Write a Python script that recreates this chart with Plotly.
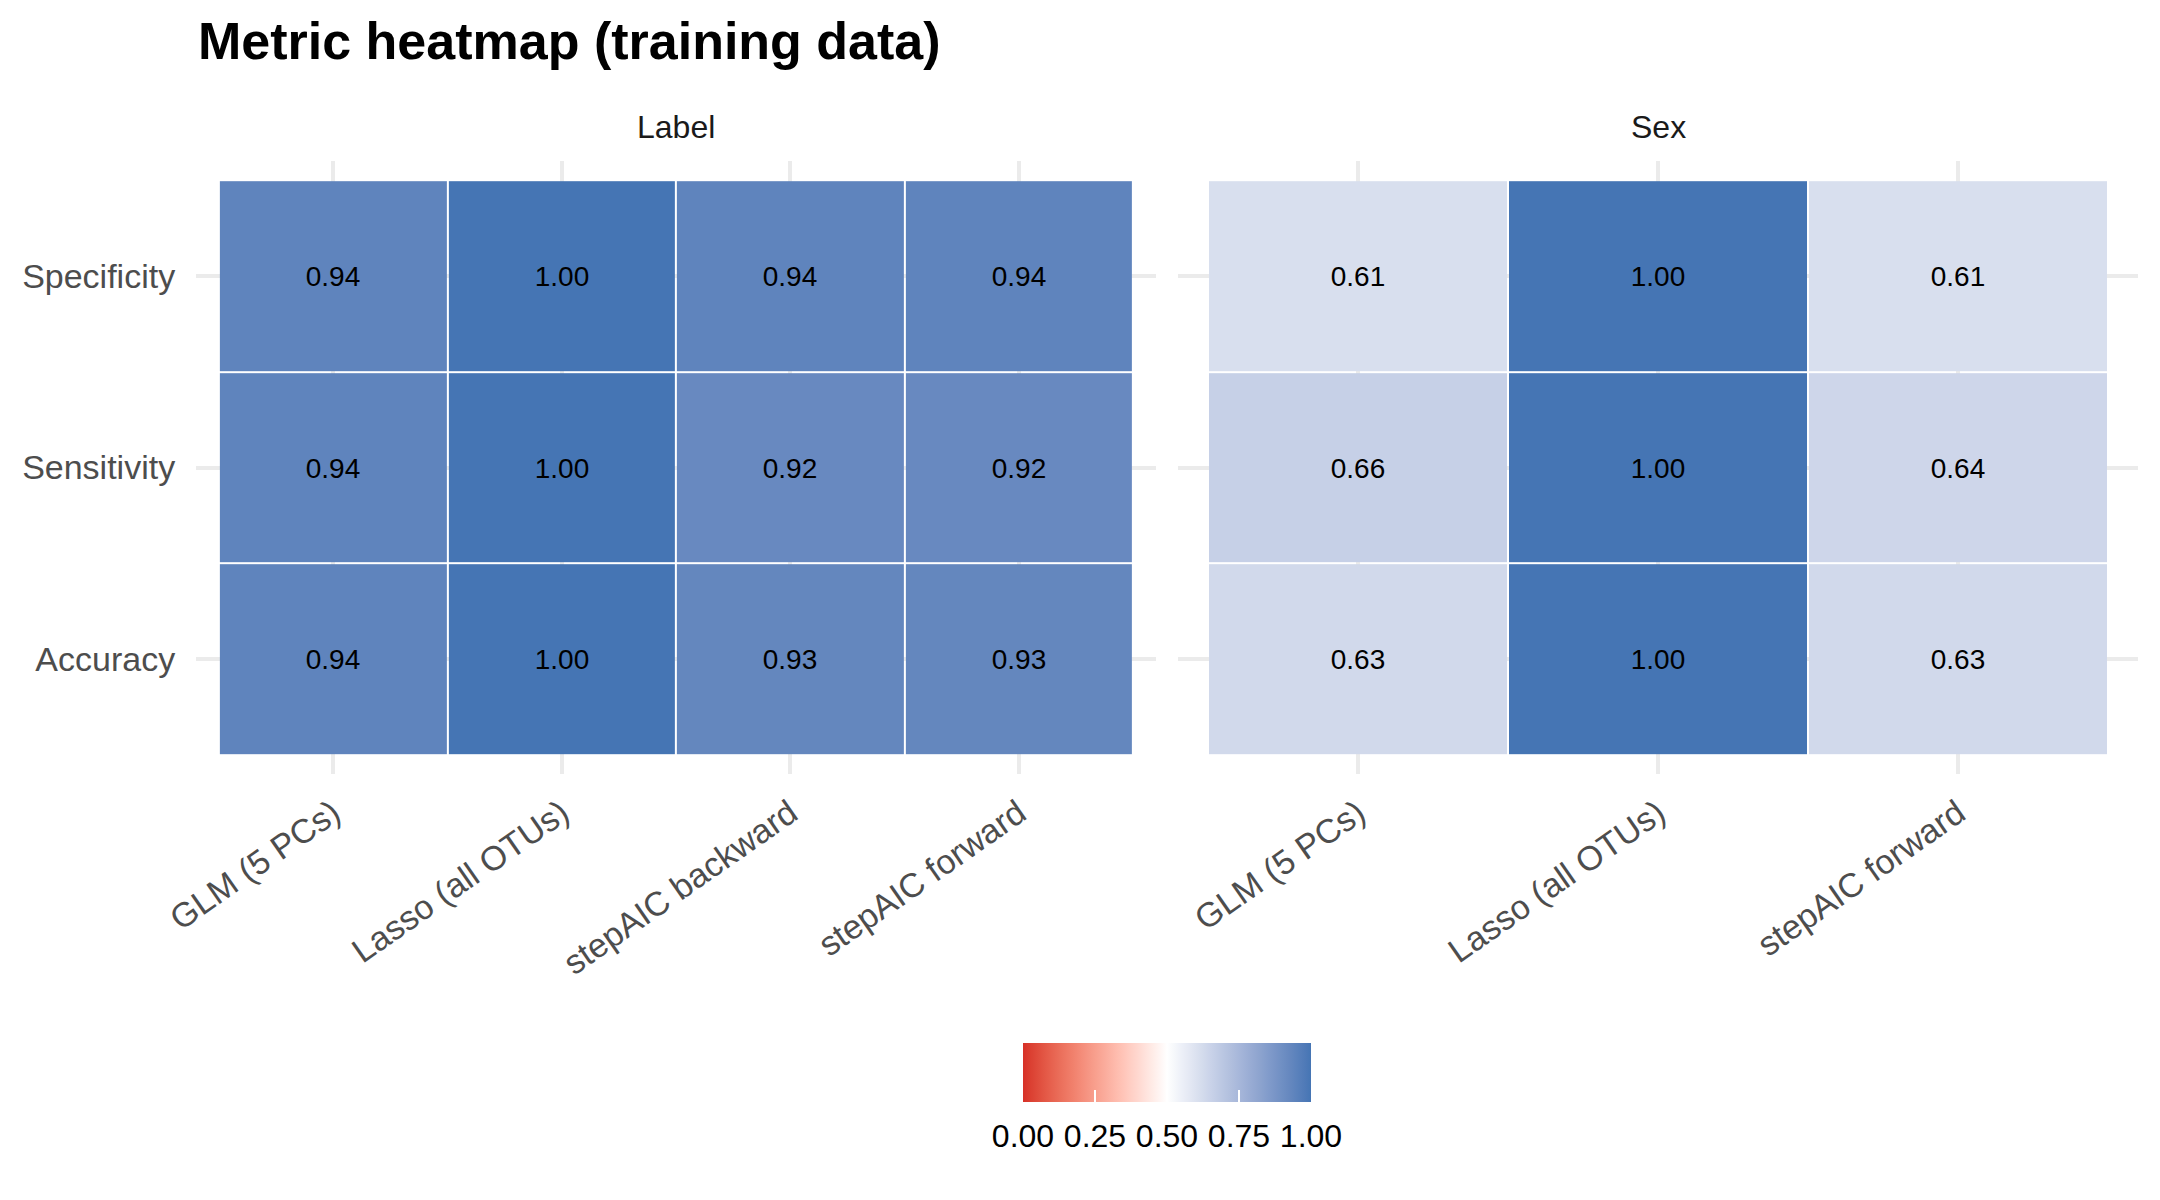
import numpy as np
import plotly.graph_objects as go

# data
metrics = ["Accuracy", "Sensitivity", "Specificity"]
label_models = ["GLM (5 PCs)", "Lasso (all OTUs)", "stepAIC backward", "stepAIC forward"]
sex_models = ["GLM (5 PCs)", "Lasso (all OTUs)", "stepAIC forward"]

label_accuracy = [0.94, 1.00, 0.93, 0.93]
label_sensitivity = [0.94, 1.00, 0.92, 0.92]
label_specificity = [0.94, 1.00, 0.94, 0.94]

sex_accuracy = [0.63, 1.00, 0.63]
sex_sensitivity = [0.66, 1.00, 0.64]
sex_specificity = [0.61, 1.00, 0.61]

bar_ticks = [0, 0.25, 0.5, 0.75, 1]
bar_labels = ["0.00", "0.25", "0.50", "0.75", "1.00"]

# page body has an 8px margin, so the figure is a bit smaller than the window
OFF = 8
W, H = 2144, 1184
FONT = "Liberation Sans"


def px(x):
    return (x - OFF) / W


def py(y):
    return 1 - (y - OFF) / H


# ggplot's gradient2 mixes colours in CIELAB, so do the same for the scale
def hex_to_lab(h):
    rgb = np.array([int(h[i:i + 2], 16) for i in (1, 3, 5)]) / 255.0
    lin = np.where(rgb <= 0.04045, rgb / 12.92, ((rgb + 0.055) / 1.055) ** 2.4)
    m = np.array([[0.4124, 0.3576, 0.1805],
                  [0.2126, 0.7152, 0.0722],
                  [0.0193, 0.1192, 0.9505]])
    xyz = m @ lin / np.array([0.95047, 1.0, 1.08883])
    d = 6 / 29
    f = np.where(xyz > d ** 3, np.cbrt(xyz), xyz / (3 * d * d) + 4 / 29)
    return np.array([116 * f[1] - 16, 500 * (f[0] - f[1]), 200 * (f[1] - f[2])])


def lab_to_hex(lab):
    fy = (lab[0] + 16) / 116
    f = np.array([fy + lab[1] / 500, fy, fy - lab[2] / 200])
    d = 6 / 29
    xyz = np.where(f > d, f ** 3, 3 * d * d * (f - 4 / 29)) * np.array([0.95047, 1.0, 1.08883])
    minv = np.array([[3.2406, -1.5372, -0.4986],
                     [-0.9689, 1.8758, 0.0415],
                     [0.0557, -0.2040, 1.0570]])
    lin = np.clip(minv @ xyz, 0, 1)
    rgb = np.where(lin <= 0.0031308, 12.92 * lin, 1.055 * lin ** (1 / 2.4) - 0.055)
    return "#%02x%02x%02x" % tuple(int(round(v * 255)) for v in rgb)


low, mid, high = hex_to_lab("#D73027"), hex_to_lab("#FFFFFF"), hex_to_lab("#4575B4")
scale = []
for t in np.linspace(0, 1, 41):
    if t <= 0.5:
        c = low + (mid - low) * (t / 0.5)
    else:
        c = mid + (high - mid) * ((t - 0.5) / 0.5)
    scale.append([float(t), lab_to_hex(c)])

fig = go.Figure()
fig.add_trace(go.Heatmap(
    x=label_models, y=metrics,
    z=[label_accuracy, label_sensitivity, label_specificity],
    coloraxis="coloraxis", xgap=2, ygap=2,
    texttemplate="%{z:.2f}", textfont=dict(family=FONT, size=28, color="black"),
    hoverinfo="skip", xaxis="x", yaxis="y"))
# same scale on a second colour axis, only so a tick-only bar can sit on top
fig.add_trace(go.Heatmap(
    x=sex_models, y=metrics,
    z=[sex_accuracy, sex_sensitivity, sex_specificity],
    coloraxis="coloraxis2", xgap=2, ygap=2,
    texttemplate="%{z:.2f}", textfont=dict(family=FONT, size=28, color="black"),
    hoverinfo="skip", xaxis="x2", yaxis="y2"))

# panel boxes in screen pixels (incl. the 0.1 category padding ggplot adds)
left_dom = [px(196), px(1156)]
right_dom = [px(1178), px(2138)]
y_dom = [py(774), py(161)]

axis_style = dict(
    type="category", showgrid=True, gridcolor="#EBEBEB", gridwidth=3.5,
    zeroline=False, showline=False, automargin=False,
    ticks="outside", ticklen=13, tickcolor="rgba(0,0,0,0)",
    tickfont=dict(family=FONT, size=34, color="#4D4D4D"),
)

# colour bar box in screen pixels
bar_left, bar_right, bar_top, bar_bottom = 1023, 1311, 1043, 1102
bar_base = dict(
    orientation="h", x=px((bar_left + bar_right) / 2), xanchor="center",
    y=py(bar_top), yanchor="top", xpad=0, ypad=0,
    len=bar_right - bar_left, lenmode="pixels",
    thickness=bar_bottom - bar_top, outlinewidth=0,
    tickvals=bar_ticks, ticktext=bar_labels,
    tickfont=dict(family=FONT, size=32, color="black"),
)

fig.update_layout(
    width=W, height=H,
    margin=dict(l=0, r=0, t=0, b=0),
    paper_bgcolor="white", plot_bgcolor="white",
    font=dict(family=FONT),
    xaxis=dict(axis_style, domain=left_dom, range=[-0.6, len(label_models) - 0.4],
               tickangle=-35, ticklen=5, anchor="y"),
    yaxis=dict(axis_style, domain=y_dom, range=[-0.6, len(metrics) - 0.4], anchor="x"),
    xaxis2=dict(axis_style, domain=right_dom, range=[-0.6, len(sex_models) - 0.4],
                tickangle=-35, ticklen=5, anchor="y2"),
    yaxis2=dict(axis_style, domain=y_dom, range=[-0.6, len(metrics) - 0.4],
                anchor="x2", showticklabels=False),
    coloraxis=dict(
        cmin=0, cmax=1, colorscale=scale,
        colorbar=dict(bar_base, ticks="outside", ticklen=7, tickcolor="white"),
    ),
    coloraxis2=dict(
        cmin=0, cmax=1, colorscale=scale,
        colorbar=dict(bar_base, ticks="inside", ticklen=12, tickcolor="white",
                      tickwidth=2, showticklabels=False),
    ),
)

fig.add_annotation(text="<b>Metric heatmap (training data)</b>",
                   xref="paper", yref="paper", x=px(196), y=py(41),
                   xanchor="left", yanchor="middle", showarrow=False,
                   font=dict(family=FONT, size=52, color="black"))

for name, dom in [("Label", left_dom), ("Sex", right_dom)]:
    fig.add_annotation(text=name, xref="paper", yref="paper",
                       x=(dom[0] + dom[1]) / 2, y=py(127),
                       xanchor="center", yanchor="middle", showarrow=False,
                       font=dict(family=FONT, size=32, color="#1A1A1A"))

fig.write_html("out.html")
